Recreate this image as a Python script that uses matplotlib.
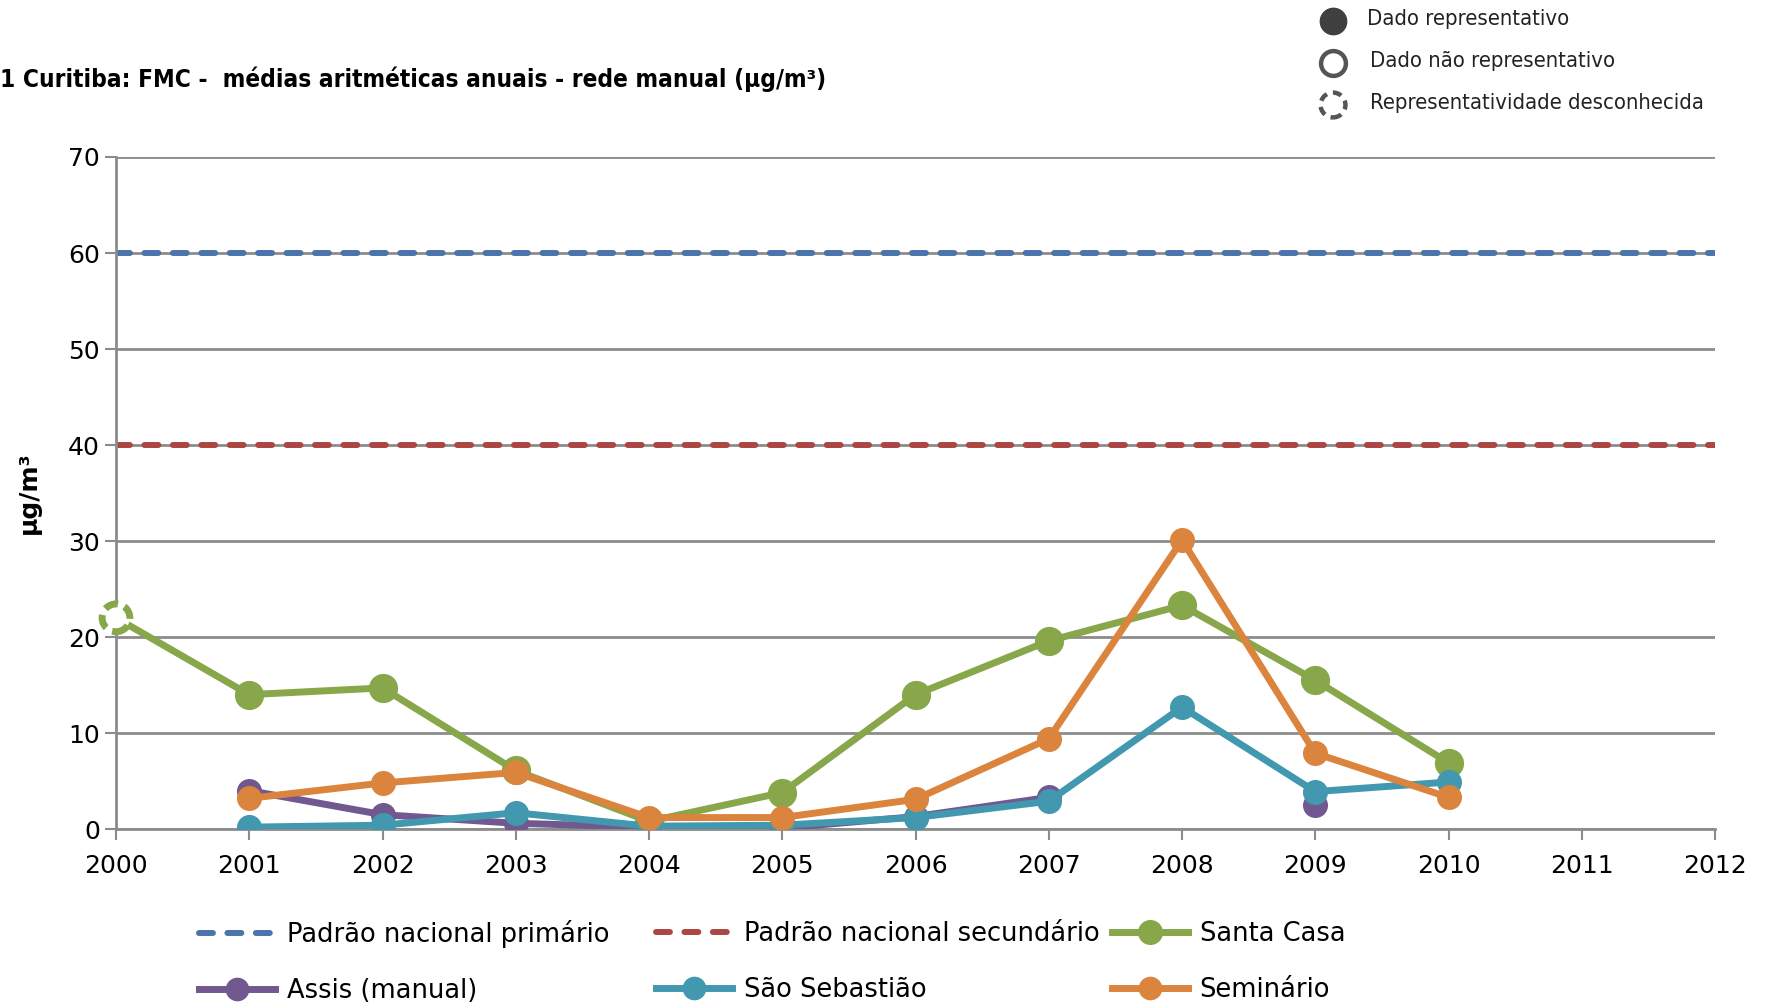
import matplotlib
matplotlib.use("Agg")
import matplotlib.pyplot as plt
from matplotlib.lines import Line2D
import numpy as np

plt.rcParams['font.family'] = ['DejaVu Sans']

years = list(range(2000, 2011))
santa_casa = [22.0, 14.0, 14.7, 6.1, 0.8, 3.8, 14.0, 19.6, 23.3, 15.5, 6.9]
assis = [np.nan, 4.0, 1.5, 0.6, 0.2, 0.1, 1.3, 3.3, np.nan, 2.5, np.nan]
sao_sebastiao = [np.nan, 0.2, 0.4, 1.7, 0.3, 0.4, 1.2, 2.9, 12.7, 3.9, 4.9]
seminario = [np.nan, 3.2, 4.8, 5.9, 1.2, 1.2, 3.1, 9.4, 30.1, 7.9, 3.3]
primary_standard = 60
secondary_standard = 40
unknown_year = [2000]
unknown_value = [22.0]

x_ticks = list(range(2000, 2013))
y_ticks = [0, 10, 20, 30, 40, 50, 60, 70]

title = "1 Curitiba: FMC -  médias aritméticas anuais - rede manual (µg/m³)"

c_blue = '#4a74ab'
c_red = '#ac4644'
c_green = '#88a64a'
c_purple = '#71588f'
c_teal = '#4198af'
c_orange = '#db843d'
c_grid = '#8c8c8c'

fig = plt.figure(figsize=(17.71, 10.07), dpi=100)
ax = fig.add_axes([0.0655, 0.1767, 0.9029, 0.6674])

ax.set_xlim(2000, 2012)
ax.set_ylim(0, 70)
ax.set_xticks(x_ticks)
ax.set_yticks(y_ticks)
ax.yaxis.grid(True, color=c_grid, lw=2.0, zorder=0)
ax.set_axisbelow(True)
for s in ['top', 'right']:
    ax.spines[s].set_visible(False)
for s in ['left', 'bottom']:
    ax.spines[s].set_color(c_grid)
    ax.spines[s].set_linewidth(2.0)
ax.tick_params(axis='both', colors=c_grid, width=1.5, length=8, labelsize=18,
               labelcolor='black')
ax.tick_params(axis='x', pad=10)

dash = (2.33, 2.43)
dlw = 4.3
ax.axhline(primary_standard, color=c_blue, lw=dlw, dashes=dash, dash_capstyle='round', zorder=2)
ax.axhline(secondary_standard, color=c_red, lw=dlw, dashes=dash, dash_capstyle='round', zorder=2)

lw = 5
ax.plot(years[1:], santa_casa[1:], color=c_green, lw=lw, marker='o', ms=20, zorder=3)
ax.plot(years[:2], santa_casa[:2], color=c_green, lw=lw, zorder=3)
ax.scatter(unknown_year, unknown_value, s=400, facecolors='white', edgecolors=c_green,
           linewidths=5, linestyles=(0, (2.0, 1.0)), zorder=4, clip_on=False)
ax.plot(years, assis, color=c_purple, lw=lw, marker='o', ms=17, zorder=4)
ax.plot(years, sao_sebastiao, color=c_teal, lw=lw, marker='o', ms=17, zorder=5)
ax.plot(years, seminario, color=c_orange, lw=lw, marker='o', ms=17, zorder=6)

ax.set_ylabel("µg/m³", fontsize=18, fontweight='bold', labelpad=20)

fig.text(0.0, 0.921, title, fontsize=17.5, fontweight='bold', ha='left', va='center',
         fontstretch='condensed')

# bottom legend (three columns)
def mk(color, **kw):
    return Line2D([], [], color=color, **kw)

h_p = mk(c_blue, lw=dlw, dashes=dash, dash_capstyle='round')
h_s = mk(c_red, lw=dlw, dashes=dash, dash_capstyle='round')
h_sc = mk(c_green, lw=lw, marker='o', ms=17)
h_as = mk(c_purple, lw=lw, marker='o', ms=16)
h_ss = mk(c_teal, lw=lw, marker='o', ms=16)
h_se = mk(c_orange, lw=lw, marker='o', ms=16)
columns = [
    ([h_p, h_as], ["Padrão nacional primário", "Assis (manual)"], 0.1125),
    ([h_s, h_ss], ["Padrão nacional secundário", "São Sebastião"], 0.3705),
    ([h_sc, h_se], ["Santa Casa", "Seminário"], 0.628),
]
for hs, ls, x0 in columns:
    fig.legend(hs, ls, loc='center left', bbox_to_anchor=(x0, 0.0445),
               frameon=False, fontsize=18.5, handlelength=2.95, handletextpad=0.45,
               labelspacing=1.15, borderpad=0, borderaxespad=0)

# top-right representativity legend
lx = 1333 / 1771
ty = [1 - 21 / 1007, 1 - 63 / 1007, 1 - 105 / 1007]
lg_ax = fig.add_axes([0, 0, 1, 1], facecolor='none')
lg_ax.set_axis_off()
lg_ax.set_xlim(0, 1)
lg_ax.set_ylim(0, 1)
lg_ax.scatter([lx], [ty[0]], s=360, color='#3f3f3f', edgecolors='#3f3f3f', linewidths=1)
lg_ax.scatter([lx], [ty[1]], s=320, facecolors='white', edgecolors='#555555', linewidths=3.2)
lg_ax.scatter([lx], [ty[2]], s=320, facecolors='white', edgecolors='#555555', linewidths=3.2,
              linestyles=(0, (2.0, 1.4)))
rep_labels = ["Dado representativo", "Dado não representativo", "Representatividade desconhecida"]
for yy, t, dx in zip(ty, rep_labels, [0.019, 0.021, 0.021]):
    lg_ax.text(lx + dx, yy + 0.002, t, fontsize=15.8, ha='left', va='center', color='#222222',
               fontstretch='condensed')

fig.savefig("out.png", dpi=100)
